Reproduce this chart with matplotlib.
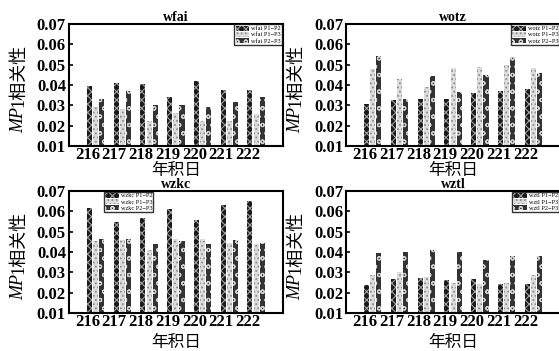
import matplotlib
matplotlib.use("Agg")
from matplotlib import pyplot as plt
import numpy as np

plt.rcParams['font.family'] = ['Liberation Serif', 'Noto Sans CJK SC']
plt.rcParams['hatch.linewidth'] = 0.8

days = ['216', '217', '218', '219', '220', '221', '222']

# station data: P1-P2, P1-P3, P2-P3
wfai_12 = [0.0395, 0.0411, 0.0403, 0.0343, 0.0420, 0.0375, 0.0375]
wfai_13 = [0.0290, 0.0282, 0.0225, 0.0264, 0.0225, 0.0225, 0.0256]
wfai_23 = [0.0333, 0.0370, 0.0300, 0.0300, 0.0290, 0.0318, 0.0343]

wotz_12 = [0.0307, 0.0326, 0.0330, 0.0333, 0.0359, 0.0370, 0.0379]
wotz_13 = [0.0477, 0.0431, 0.0389, 0.0482, 0.0490, 0.0498, 0.0485]
wotz_23 = [0.0540, 0.0333, 0.0444, 0.0367, 0.0449, 0.0536, 0.0457]

wzkc_12 = [0.0614, 0.0549, 0.0565, 0.0611, 0.0557, 0.0631, 0.0651]
wzkc_13 = [0.0453, 0.0458, 0.0409, 0.0463, 0.0466, 0.0442, 0.0437]
wzkc_23 = [0.0466, 0.0463, 0.0437, 0.0453, 0.0437, 0.0458, 0.0442]

wztl_12 = [0.0236, 0.0266, 0.0273, 0.0261, 0.0266, 0.0245, 0.0245]
wztl_13 = [0.0289, 0.0302, 0.0278, 0.0250, 0.0245, 0.0250, 0.0289]
wztl_23 = [0.0393, 0.0401, 0.0409, 0.0401, 0.0360, 0.0381, 0.0380]

panels = [
    ('wfai', wfai_12, wfai_13, wfai_23, [0.123, 0.584, 0.383, 0.348], 'upper right', (1.0, 1.0), 0),
    ('wotz', wotz_12, wotz_13, wotz_23, [0.619, 0.584, 0.383, 0.348], 'upper right', (1.0, 1.0), 0),
    ('wzkc', wzkc_12, wzkc_13, wzkc_23, [0.123, 0.108, 0.383, 0.348], 'upper left', (0.16, 1.0), 3),
    ('wztl', wztl_12, wztl_13, wztl_23, [0.619, 0.108, 0.383, 0.348], 'upper right', (1.0, 1.0), 3),
]

styles = [
    dict(facecolor='#1a1a1a', edgecolor='#a0a0a0', hatch='xxxx'),
    dict(facecolor='#dcdcdc', edgecolor='#8c8c8c', hatch='....'),
    dict(facecolor='#333333', edgecolor='#d0d0d0', hatch='oo'),
]

fig = plt.figure(figsize=(5.59, 3.51), dpi=100)
x = np.arange(1, 8)
w = 0.19
for name, s1, s2, s3, rect, loc, anchor, xpad in panels:
    ax = fig.add_axes(rect)
    labels = [name + ' P1\u2212P2', name + ' P1\u2212P3', name + ' P2\u2212P3']
    for k, vals in enumerate([s1, s2, s3]):
        vals = np.array(vals)
        ax.bar(x + (k - 1) * 0.23, vals - 0.01, w, bottom=0.01, linewidth=0,
               label=labels[k], **styles[k])
    ax.set_xlim(0, 8)
    ax.set_ylim(0.01, 0.07)
    ax.set_yticks([0.01, 0.02, 0.03, 0.04, 0.05, 0.06, 0.07])
    ax.set_yticklabels(['0.01', '0.02', '0.03', '0.04', '0.05', '0.06', '0.07'],
                       fontsize=12, fontweight='bold')
    ax.set_xticks(x - 0.3)
    ax.set_xticklabels(days, fontsize=12, fontweight='bold')
    ax.tick_params(axis='x', length=0, pad=1)
    ax.tick_params(axis='y', direction='in', length=3, width=1.2, pad=2, right=False)
    for sp in ax.spines.values():
        sp.set_linewidth(1.5)
    ax.set_title(name, fontsize=10, fontweight='bold', pad=2)
    # y label: italic "MP" followed by "1相关性"
    t1 = ax.text(-0.235, 0.105, 'MP', rotation=90, style='italic', fontsize=13,
                 family='Liberation Serif', transform=ax.transAxes,
                 ha='center', va='bottom')
    ax.annotate('1相关性', xy=(0.5, 1.0), xycoords=t1, rotation=90, fontsize=13,
                family=['Liberation Serif', 'Noto Sans CJK SC'],
                ha='center', va='bottom')
    ax.set_xlabel('年积日', fontsize=12, labelpad=xpad)
    leg = ax.legend(loc=loc, bbox_to_anchor=anchor, fontsize=4.5, frameon=True,
                    fancybox=False, edgecolor='black', borderpad=0.2,
                    labelspacing=0.1, handlelength=2.2, handleheight=0.8,
                    handletextpad=0.3, borderaxespad=0.1)
    leg.get_frame().set_linewidth(1.0)

fig.savefig('out.png', dpi=100)
